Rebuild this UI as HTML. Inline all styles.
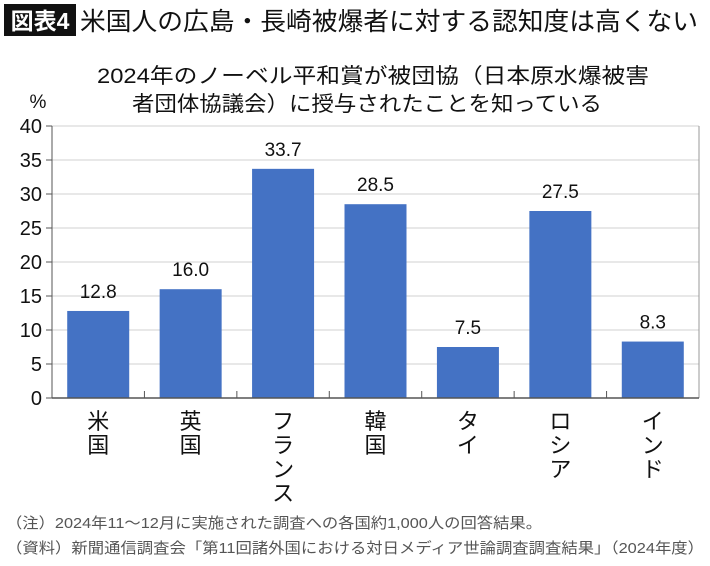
<!DOCTYPE html>
<html><head><meta charset="utf-8"><style>
body{margin:0;background:#fff;width:710px;height:561px;overflow:hidden;font-family:"Liberation Sans","Noto Sans CJK JP",sans-serif}
</style></head><body>
<svg width="710" height="561" xmlns="http://www.w3.org/2000/svg" font-family="Liberation Sans, Noto Sans CJK JP, sans-serif">
<rect x="4" y="4" width="72" height="32" fill="#111"/>
<text x="40" y="29" fill="#fff" font-size="23" font-weight="bold" text-anchor="middle">図表4</text>
<text x="80" y="30" font-size="25" fill="#111" textLength="618" lengthAdjust="spacingAndGlyphs">米国人の広島・長崎被爆者に対する認知度は高くない</text>
<text x="97" y="83" font-size="21" fill="#111" textLength="552" lengthAdjust="spacingAndGlyphs">2024年のノーベル平和賞が被団協（日本原水爆被害</text>
<text x="132" y="111" font-size="21" fill="#111" textLength="470" lengthAdjust="spacingAndGlyphs">者団体協議会）に授与されたことを知っている</text>
<text x="38" y="108" font-size="19" fill="#111" text-anchor="middle">%</text>
<g id="grid"></g><g id="bars"></g><g id="axes"></g>
<text x="6" y="528" font-size="15" fill="#555" textLength="536" lengthAdjust="spacingAndGlyphs">（注）2024年11〜12月に実施された調査への各国約1,000人の回答結果。</text>
<text x="6" y="553" font-size="15" fill="#555" textLength="698" lengthAdjust="spacingAndGlyphs">（資料）新聞通信調査会「第11回諸外国における対日メディア世論調査調査結果」（2024年度）</text>
</svg>
<script>
const categories=["米国","英国","フランス","韓国","タイ","ロシア","インド"];
const values=[12.8,16.0,33.7,28.5,7.5,27.5,8.3];
const valueLabels=["12.8","16.0","33.7","28.5","7.5","27.5","8.3"];
const yTicks=[0,5,10,15,20,25,30,35,40];
const NS="http://www.w3.org/2000/svg";
const L=52,R=699,T=126,B=398,yMax=40;
const bw=(R-L)/categories.length;
const y=v=>B-(v/yMax)*(B-T);
const x=i=>L+i*bw;
function mk(t,a,p,txt){const e=document.createElementNS(NS,t);for(const k in a)e.setAttribute(k,a[k]);if(txt!=null)e.textContent=txt;p.appendChild(e);return e;}
const g=document.getElementById('grid'),b=document.getElementById('bars'),ax=document.getElementById('axes');
yTicks.forEach(v=>{
 if(v>0){const l=mk('line',{x1:L,x2:R,y1:y(v),y2:y(v),stroke:'#d0d0d0','stroke-width':1},g);
 
 }
 const tk=mk('line',{x1:L-6,x2:L,y1:y(v),y2:y(v),stroke:'#555'},ax);
 
 
 const t=mk('text',{x:L-10,y:y(v)+7,'font-size':20,'text-anchor':'end',fill:'#111'},ax,String(v));
 
 
});
mk('line',{x1:R,x2:R,y1:T,y2:B,stroke:'#999'},ax);
const yl=mk('line',{x1:L,x2:L,y1:T,y2:B,stroke:'#555'},ax);


const xl=mk('line',{x1:L,x2:R,y1:B,y2:B,stroke:'#555','stroke-width':1.5},ax);


categories.forEach((c,i)=>{
 if(i>0){mk('line',{x1:x(i),x2:x(i),y1:B,y2:B-7,stroke:'#555'},ax);}
 const w=62,cx=x(i)+bw/2;
 const r=mk('rect',{x:cx-w/2,y:y(values[i]),width:w,height:B-y(values[i]),fill:'#4472c4'},b);
 
 
 const vl=mk('text',{x:cx,y:y(values[i])-13,'font-size':19,'text-anchor':'middle',fill:'#111'},b,valueLabels[i]);
 
 
 const cl=mk('text',{x:cx,'font-size':22,'text-anchor':'middle',fill:'#111'},ax);
 
 
 [...c].forEach((ch,k)=>{mk('tspan',{x:cx,y:429+k*24},cl,ch);});
});
</script>
</body></html>
